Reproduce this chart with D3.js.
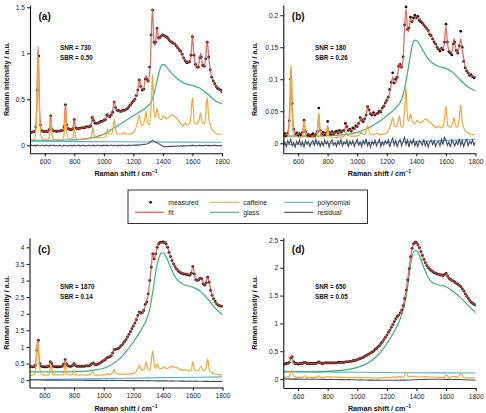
<!DOCTYPE html>
<html><head><meta charset="utf-8">
<script src="https://cdn.jsdelivr.net/npm/d3@7"></script>
<style>
html,body{margin:0;padding:0;background:#fff;}
svg{display:block;font-family:"Liberation Sans",Arial,sans-serif;}
</style></head>
<body><svg id="chart" width="486" height="413"></svg>
<script>
// ---------------- DATA ----------------
const xTicks = [600, 800, 1000, 1200, 1400, 1600, 1800];
const gridX10 = d3.range(500, 1801, 10);
const gridX20 = d3.range(500, 1801, 20);
const seriesNames = ["measured", "fit", "caffeine", "glass", "polynomial", "residual"];
const panelLabels = ["(a)", "(b)", "(c)", "(d)"];
const snrTexts = ["SNR = 730", "SNR = 180", "SNR = 1870", "SNR = 650"];
const sbrTexts = ["SBR = 0.50", "SBR = 0.26", "SBR = 0.14", "SBR = 0.05"];
const yTicksA = [0, 0.5, 1, 1.5];
const yTicksB = [0, 0.05, 0.1, 0.15, 0.2];
const yTicksC = [0, 0.5, 1, 1.5, 2, 2.5, 3, 3.5, 4];
const yTicksD = [0, 0.5, 1, 1.5, 2, 2.5];

// panel (a)
const aMeasured = [0.14,0.14,0.145,0.15,0.2,0.6,0.97,0.22,0.16,0.15,
0.15,0.15,0.15,0.17,0.32,0.17,0.155,0.155,0.15,0.155,
0.155,0.16,0.16,0.2,0.44,0.22,0.18,0.17,0.17,0.18,
0.28,0.19,0.18,0.18,0.185,0.19,0.19,0.19,0.2,0.2,
0.2,0.21,0.3,0.27,0.24,0.24,0.24,0.25,0.26,0.26,
0.27,0.28,0.33,0.32,0.31,0.33,0.36,0.47,0.41,0.38,
0.38,0.37,0.37,0.38,0.38,0.39,0.4,0.42,0.44,0.46,
0.48,0.5,0.54,0.6,0.71,0.64,0.6,0.61,0.72,0.72,
0.7,0.85,1.2,1.47,1.12,1.12,1.27,1.17,1.17,1.19,
1.2,1.19,1.18,1.17,1.15,1.13,1.12,1.11,1.1,1.08,
1.06,1.04,1.02,0.99,0.95,0.92,0.9,0.9,0.91,0.98,
1.18,0.98,0.88,0.85,0.85,0.95,0.96,0.87,0.86,0.94,
1.12,0.96,0.82,0.74,0.7,0.67,0.64,0.62,0.61,0.6,
0.58];
const aFit = [[500,0.14],[520,0.145],[535,0.17],[545,0.4],[555,1.08],[565,0.4],[577,0.17],[590,0.15],[620,0.15],[632,0.19],[640,0.33],[648,0.19],[660,0.155],[700,0.155],[725,0.17],[733,0.27],[740,0.45],[747,0.27],[757,0.18],[780,0.17],[793,0.21],[800,0.29],[807,0.21],[820,0.18],[860,0.19],[900,0.2],[915,0.24],[925,0.32],[935,0.26],[960,0.24],[1000,0.27],[1018,0.31],[1025,0.35],[1033,0.31],[1050,0.33],[1062,0.4],[1070,0.48],[1078,0.42],[1095,0.38],[1120,0.37],[1150,0.39],[1180,0.44],[1210,0.5],[1230,0.6],[1240,0.72],[1252,0.62],[1268,0.6],[1285,0.76],[1298,0.68],[1315,0.9],[1322,1.25],[1330,1.48],[1338,1.15],[1347,1.08],[1360,1.28],[1372,1.15],[1385,1.18],[1400,1.2],[1420,1.18],[1440,1.15],[1460,1.12],[1480,1.1],[1500,1.06],[1520,1.02],[1540,0.95],[1560,0.9],[1580,0.91],[1592,1.02],[1600,1.19],[1608,1.02],[1620,0.88],[1635,0.84],[1645,0.9],[1655,1.0],[1665,0.9],[1680,0.86],[1690,0.97],[1700,1.13],[1710,0.97],[1722,0.8],[1740,0.7],[1760,0.64],[1780,0.61],[1800,0.58]];
const aGlass = [[500,0.055],[600,0.055],[700,0.057],[800,0.06],[900,0.075],[950,0.095],[1000,0.12],[1050,0.17],[1100,0.22],[1150,0.27],[1200,0.32],[1250,0.37],[1300,0.43],[1320,0.47],[1340,0.56],[1360,0.7],[1375,0.8],[1390,0.87],[1400,0.88],[1420,0.86],[1440,0.82],[1460,0.78],[1500,0.72],[1550,0.67],[1600,0.65],[1650,0.62],[1700,0.56],[1750,0.49],[1800,0.45]];
const aCaffeine = [[500,0.055],[530,0.065],[542,0.2],[548,0.5],[555,0.97],[562,0.5],[568,0.2],[582,0.07],[620,0.06],[633,0.11],[641,0.27],[649,0.11],[665,0.06],[725,0.065],[733,0.17],[740,0.38],[747,0.17],[760,0.07],[790,0.08],[800,0.2],[810,0.08],[830,0.065],[900,0.07],[917,0.11],[925,0.2],[933,0.11],[960,0.08],[1010,0.09],[1020,0.13],[1025,0.18],[1030,0.13],[1050,0.12],[1062,0.18],[1070,0.28],[1080,0.17],[1095,0.12],[1120,0.12],[1135,0.14],[1150,0.12],[1190,0.13],[1215,0.18],[1230,0.26],[1240,0.33],[1252,0.22],[1265,0.22],[1278,0.3],[1285,0.37],[1295,0.25],[1310,0.22],[1322,0.5],[1330,0.77],[1338,0.4],[1348,0.3],[1360,0.4],[1372,0.3],[1390,0.28],[1405,0.32],[1420,0.29],[1440,0.3],[1460,0.33],[1480,0.31],[1500,0.28],[1520,0.24],[1535,0.21],[1550,0.24],[1565,0.22],[1585,0.25],[1600,0.52],[1612,0.25],[1630,0.23],[1645,0.28],[1655,0.35],[1665,0.25],[1680,0.23],[1690,0.34],[1700,0.52],[1710,0.3],[1725,0.2],[1750,0.14],[1775,0.12],[1800,0.12]];
const aPoly = [[500,0.045],[900,0.04],[1300,0.036],[1800,0.033]];
const aResidual = [-0.004,0.002,-0.006,0.001,-0.008,0.004,-0.002,-0.007,0.003,-0.004,
-0.006,0.002,-0.003,-0.008,0.001,-0.005,0.003,-0.006,-0.002,-0.007,
0.002,-0.004,-0.009,0.001,-0.005,-0.002,-0.008,0.003,-0.004,-0.006,
0.001,-0.007,-0.003,0.002,-0.006,-0.004,0.001,-0.008,-0.002,-0.005,
0.002,-0.006,-0.003,0.001,-0.007,-0.002,0.003,-0.005,-0.001,-0.006,
0.002,-0.004,0.001,-0.006,-0.002,0.003,-0.005,0.001,-0.003,-0.006,
0.001,-0.004,-0.001,0.002,-0.005,0.001,-0.003,0.002,-0.002,0.001,
0.003,-0.001,0.004,0.002,0.006,0.004,0.008,0.01,0.012,0.015,
0.02,0.03,0.042,0.052,0.045,0.035,0.028,0.018,0.008,-0.002,
-0.01,-0.015,-0.012,-0.016,-0.011,-0.014,-0.009,-0.013,-0.008,-0.011,
-0.006,-0.01,-0.005,-0.009,-0.004,-0.008,-0.003,-0.007,-0.002,-0.006,
0.001,-0.005,-0.002,-0.007,-0.003,0.001,-0.006,-0.002,-0.005,0.002,
-0.004,-0.001,-0.006,-0.002,-0.005,0.001,-0.004,-0.002,-0.006,-0.003,
-0.004];

// panel (b)
const bMeasured = [0.012,0.015,0.011,0.016,0.035,0.1,0.062,0.022,0.013,0.016,
0.012,0.015,0.013,0.017,0.036,0.018,0.012,0.014,0.011,0.013,
0.015,0.011,0.014,0.018,0.055,0.02,0.014,0.017,0.013,0.016,
0.034,0.017,0.014,0.018,0.015,0.017,0.019,0.016,0.02,0.017,
0.019,0.02,0.031,0.026,0.02,0.022,0.019,0.024,0.023,0.027,
0.026,0.031,0.04,0.036,0.034,0.038,0.044,0.057,0.052,0.046,
0.044,0.048,0.044,0.046,0.047,0.05,0.049,0.055,0.058,0.063,
0.067,0.072,0.084,0.095,0.11,0.094,0.1,0.103,0.12,0.123,
0.119,0.135,0.185,0.213,0.178,0.18,0.197,0.19,0.196,0.2,
0.196,0.198,0.192,0.19,0.188,0.185,0.182,0.179,0.176,0.17,
0.168,0.163,0.158,0.155,0.15,0.147,0.144,0.148,0.146,0.158,
0.186,0.158,0.143,0.141,0.138,0.155,0.158,0.145,0.141,0.152,
0.175,0.15,0.128,0.118,0.113,0.11,0.106,0.107,0.104,0.102,
0.103];
const bFit = [[500,0.013],[520,0.013],[535,0.022],[545,0.065],[552,0.12],[560,0.065],[570,0.022],[590,0.014],[630,0.016],[640,0.037],[650,0.017],[700,0.012],[730,0.016],[740,0.047],[750,0.017],[790,0.015],[800,0.027],[810,0.016],[850,0.016],[900,0.018],[918,0.023],[925,0.03],[932,0.023],[960,0.02],[1000,0.027],[1018,0.034],[1025,0.04],[1032,0.035],[1050,0.036],[1062,0.047],[1070,0.058],[1080,0.05],[1100,0.046],[1130,0.045],[1160,0.05],[1190,0.062],[1215,0.075],[1230,0.092],[1240,0.104],[1250,0.095],[1265,0.097],[1278,0.115],[1285,0.125],[1295,0.117],[1310,0.13],[1320,0.18],[1330,0.21],[1340,0.18],[1348,0.175],[1360,0.195],[1372,0.19],[1390,0.195],[1400,0.197],[1420,0.194],[1450,0.186],[1480,0.175],[1500,0.168],[1520,0.16],[1540,0.15],[1560,0.147],[1585,0.15],[1600,0.183],[1610,0.157],[1625,0.143],[1640,0.142],[1655,0.164],[1665,0.149],[1680,0.142],[1690,0.152],[1700,0.163],[1710,0.148],[1725,0.125],[1745,0.112],[1765,0.107],[1785,0.104],[1800,0.103]];
const bGlass = [[500,0.011],[600,0.011],[700,0.011],[800,0.012],[900,0.013],[1000,0.017],[1050,0.021],[1100,0.027],[1150,0.034],[1200,0.043],[1250,0.053],[1300,0.068],[1320,0.085],[1340,0.11],[1360,0.138],[1375,0.155],[1390,0.161],[1405,0.16],[1420,0.155],[1450,0.143],[1480,0.132],[1500,0.127],[1550,0.12],[1600,0.117],[1650,0.11],[1700,0.098],[1750,0.088],[1800,0.082]];
const bCaffeine = [[500,0.008],[530,0.01],[542,0.03],[547,0.065],[552,0.12],[558,0.065],[563,0.03],[577,0.012],[620,0.009],[633,0.016],[640,0.035],[648,0.016],[665,0.009],[725,0.01],[733,0.022],[740,0.045],[747,0.022],[765,0.01],[790,0.011],[800,0.025],[809,0.011],[840,0.009],[900,0.01],[917,0.013],[925,0.018],[933,0.013],[960,0.011],[1010,0.012],[1020,0.015],[1025,0.018],[1030,0.015],[1050,0.014],[1062,0.021],[1070,0.028],[1080,0.019],[1095,0.014],[1120,0.014],[1135,0.016],[1150,0.013],[1190,0.015],[1215,0.022],[1230,0.031],[1240,0.04],[1252,0.027],[1265,0.026],[1278,0.036],[1285,0.043],[1295,0.028],[1310,0.025],[1322,0.06],[1330,0.088],[1338,0.045],[1348,0.034],[1360,0.046],[1372,0.034],[1390,0.03],[1405,0.036],[1420,0.032],[1440,0.034],[1460,0.038],[1480,0.035],[1500,0.031],[1520,0.027],[1535,0.024],[1550,0.027],[1565,0.024],[1585,0.028],[1600,0.058],[1612,0.028],[1630,0.025],[1645,0.031],[1655,0.04],[1665,0.028],[1680,0.025],[1690,0.038],[1700,0.06],[1710,0.034],[1725,0.022],[1750,0.016],[1775,0.014],[1800,0.013]];
const bPoly = [[500,-0.002],[900,0.0],[1300,0.002],[1800,0.006]];
const bResidual = [-0.003,0.002,-0.005,0.004,-0.001,0.006,-0.004,0.001,-0.006,0.003,
-0.002,0.005,-0.004,0.002,-0.006,0.004,-0.001,0.003,-0.005,0.001,
0.004,-0.003,0.006,-0.002,0.003,-0.005,0.002,-0.004,0.005,-0.001,
0.003,-0.006,0.002,0.005,-0.003,0.001,-0.005,0.004,-0.002,0.006,
-0.004,0.002,-0.001,0.005,-0.006,0.003,-0.002,0.004,-0.005,0.001,
0.006,-0.003,0.002,-0.005,0.004,-0.001,0.007,-0.004,0.002,-0.006,
0.003,-0.002,0.005,-0.004,0.001,0.006,-0.005,0.002,-0.003,0.004,
-0.001,0.005,-0.006,0.003,0.008,-0.003,0.004,-0.005,0.002,0.006,
-0.004,0.003,0.009,-0.002,0.005,-0.006,0.004,-0.001,0.006,-0.004,
0.002,-0.005,0.004,0.001,-0.003,0.006,-0.004,0.003,-0.006,0.002,
0.005,-0.002,0.004,-0.005,0.001,0.003,-0.004,0.006,-0.002,0.009,
0.004,-0.003,0.002,-0.006,0.005,0.001,-0.004,0.003,-0.002,0.007,
-0.003,0.004,-0.005,0.002,0.006,-0.004,0.003,-0.001,0.005,-0.003,
0.002];

// panel (c)
const cMeasured = [0.4,0.41,0.4,0.41,0.45,0.9,1.2,0.5,0.42,0.41,
0.4,0.4,0.41,0.42,0.55,0.5,0.42,0.41,0.4,0.4,
0.4,0.41,0.42,0.48,0.62,0.48,0.43,0.42,0.42,0.44,
0.5,0.44,0.42,0.42,0.42,0.42,0.42,0.42,0.43,0.43,
0.43,0.45,0.5,0.51,0.47,0.47,0.48,0.5,0.53,0.56,
0.59,0.62,0.67,0.69,0.7,0.73,0.82,0.92,0.93,0.94,
0.96,1.0,1.05,1.1,1.16,1.22,1.3,1.38,1.46,1.55,
1.63,1.72,1.82,1.95,2.05,2.02,2.03,2.1,2.28,2.35,
2.6,3.0,3.4,3.8,3.65,3.8,4.0,4.1,4.15,4.15,
4.16,4.14,4.1,4.0,3.85,3.72,3.6,3.5,3.42,3.35,
3.3,3.26,3.23,3.21,3.2,3.19,3.18,3.17,3.16,3.22,
3.42,3.2,3.03,3.0,3.02,3.07,3.05,2.9,2.86,2.93,
3.1,2.95,2.7,2.55,2.45,2.37,2.3,2.26,2.24,2.23,
2.22];
const cFit = [[500,0.4],[535,0.42],[545,0.65],[555,1.26],[565,0.65],[578,0.43],[630,0.42],[645,0.59],[658,0.43],[725,0.43],[740,0.62],[755,0.44],[790,0.43],[800,0.5],[812,0.43],[900,0.43],[915,0.47],[925,0.52],[935,0.48],[960,0.48],[1000,0.59],[1020,0.67],[1025,0.69],[1050,0.73],[1062,0.85],[1070,0.92],[1100,0.96],[1150,1.22],[1200,1.63],[1230,1.95],[1240,2.05],[1255,2.0],[1270,2.1],[1285,2.32],[1300,2.6],[1320,3.4],[1330,3.8],[1340,3.65],[1350,3.8],[1370,4.1],[1390,4.15],[1410,4.14],[1430,4.0],[1450,3.72],[1480,3.42],[1500,3.3],[1550,3.19],[1585,3.17],[1600,3.42],[1615,3.1],[1630,3.0],[1650,3.07],[1665,3.0],[1680,2.86],[1700,3.1],[1715,2.85],[1735,2.5],[1760,2.3],[1800,2.22]];
const cGlass = [[500,0.25],[600,0.25],[700,0.25],[800,0.26],[900,0.28],[950,0.31],[1000,0.36],[1050,0.46],[1100,0.62],[1150,0.86],[1200,1.15],[1250,1.5],[1290,1.85],[1310,2.15],[1330,2.65],[1350,3.25],[1370,3.65],[1390,3.83],[1405,3.82],[1420,3.72],[1450,3.4],[1480,3.12],[1500,3.0],[1550,2.86],[1600,2.8],[1650,2.68],[1700,2.45],[1750,2.17],[1800,1.97]];
const cCaffeine = [[500,0.14],[535,0.17],[543,0.45],[549,0.85],[555,1.15],[561,0.85],[567,0.45],[580,0.17],[630,0.15],[645,0.45],[658,0.16],[728,0.16],[740,0.5],[752,0.17],[790,0.16],[800,0.3],[810,0.16],[900,0.15],[925,0.25],[940,0.15],[1010,0.16],[1025,0.2],[1040,0.17],[1060,0.22],[1070,0.32],[1082,0.2],[1100,0.18],[1200,0.2],[1230,0.35],[1240,0.45],[1255,0.3],[1275,0.35],[1285,0.55],[1298,0.32],[1312,0.3],[1330,0.88],[1342,0.4],[1350,0.36],[1360,0.5],[1372,0.36],[1390,0.35],[1405,0.4],[1425,0.35],[1460,0.41],[1500,0.36],[1530,0.3],[1550,0.32],[1570,0.28],[1590,0.3],[1600,0.57],[1612,0.3],[1635,0.28],[1655,0.42],[1670,0.28],[1688,0.35],[1700,0.64],[1712,0.3],[1730,0.22],[1760,0.18],[1800,0.16]];
const cPoly = [[500,0.02],[900,0.04],[1300,0.07],[1800,0.1]];
const cResidual = [0.01,0.005,0.008,0.004,0.006,0.003,0.005,0.002,0.004,0.001,
0.003,0.0,0.002,-0.002,0.001,-0.003,0.0,-0.004,-0.002,-0.005,
-0.003,-0.006,-0.004,-0.007,-0.005,-0.008,-0.006,-0.009,-0.007,-0.01,
-0.008,-0.011,-0.009,-0.012,-0.01,-0.013,-0.011,-0.014,-0.012,-0.016,
-0.014,-0.018,-0.015,-0.02,-0.017,-0.022,-0.019,-0.024,-0.021,-0.026,
-0.023,-0.028,-0.025,-0.03,-0.027,-0.032,-0.029,-0.034,-0.031,-0.036,
-0.033,-0.038,-0.035,-0.04,-0.037,-0.04];

// panel (d)
const dMeasured = [0.27,0.27,0.28,0.28,0.3,0.38,0.4,0.31,0.28,0.28,
0.27,0.28,0.28,0.28,0.3,0.3,0.28,0.28,0.28,0.28,
0.28,0.28,0.28,0.29,0.31,0.29,0.28,0.28,0.29,0.29,
0.29,0.29,0.29,0.29,0.29,0.29,0.29,0.3,0.3,0.3,
0.3,0.3,0.31,0.31,0.31,0.32,0.32,0.33,0.33,0.34,
0.35,0.36,0.37,0.38,0.39,0.41,0.42,0.44,0.45,0.47,
0.48,0.5,0.53,0.55,0.58,0.6,0.64,0.67,0.71,0.75,
0.79,0.84,0.88,0.93,0.98,1.03,1.08,1.12,1.15,1.19,
1.24,1.32,1.45,1.6,1.78,1.98,2.2,2.35,2.43,2.46,
2.45,2.41,2.36,2.29,2.22,2.15,2.09,2.04,2.0,1.97,
1.95,1.93,1.91,1.9,1.89,1.88,1.87,1.87,1.86,1.88,
1.9,1.85,1.81,1.79,1.77,1.76,1.74,1.72,1.7,1.68,
1.66,1.62,1.58,1.53,1.49,1.45,1.41,1.38,1.36,1.34,
1.33];
const dFit = [[500,0.27],[530,0.28],[545,0.33],[555,0.42],[565,0.33],[580,0.28],[630,0.28],[645,0.31],[660,0.28],[730,0.28],[740,0.31],[752,0.28],[800,0.29],[850,0.29],[900,0.3],[950,0.32],[1000,0.35],[1050,0.41],[1100,0.48],[1150,0.6],[1200,0.79],[1250,1.03],[1280,1.15],[1300,1.24],[1320,1.45],[1340,1.78],[1360,2.2],[1375,2.4],[1390,2.46],[1405,2.44],[1420,2.36],[1450,2.15],[1480,2.0],[1500,1.95],[1550,1.88],[1585,1.86],[1600,1.9],[1615,1.83],[1650,1.76],[1680,1.7],[1700,1.66],[1720,1.58],[1750,1.45],[1780,1.36],[1800,1.33]];
const dGlass = [[500,0.13],[600,0.13],[700,0.13],[800,0.14],[900,0.16],[1000,0.21],[1050,0.26],[1100,0.34],[1150,0.46],[1200,0.64],[1250,0.86],[1290,1.08],[1320,1.35],[1340,1.65],[1360,2.05],[1375,2.25],[1390,2.31],[1405,2.3],[1420,2.22],[1450,2.0],[1480,1.82],[1500,1.75],[1550,1.69],[1600,1.66],[1650,1.57],[1700,1.46],[1750,1.32],[1800,1.19]];
const dCaffeine = [[500,0.03],[540,0.045],[548,0.11],[555,0.16],[562,0.11],[572,0.05],[600,0.03],[630,0.03],[645,0.06],[660,0.03],[728,0.03],[740,0.06],[755,0.03],[800,0.04],[900,0.03],[1000,0.025],[1060,0.025],[1070,0.035],[1085,0.02],[1230,0.025],[1240,0.04],[1260,0.03],[1285,0.05],[1310,0.03],[1330,0.13],[1345,0.04],[1360,0.05],[1400,0.04],[1460,0.045],[1550,0.03],[1590,0.03],[1600,0.08],[1620,0.03],[1655,0.05],[1680,0.03],[1700,0.1],[1720,0.03],[1800,0.02]];
const dPoly = [[500,0.14],[900,0.125],[1300,0.115],[1800,0.11]];
const dResidual = [0.005,0.002,0.004,0.0,0.003,-0.001,0.002,-0.002,0.001,-0.003,
0.0,-0.004,-0.002,-0.005,-0.003,-0.006,-0.004,-0.007,-0.006,-0.009,
-0.008,-0.011,-0.01,-0.013,-0.012,-0.015,-0.014,-0.017,-0.016,-0.019,
-0.018,-0.02,-0.019,-0.021,-0.02,-0.022,-0.021,-0.022,-0.02,-0.021,
-0.018,-0.019,-0.016,-0.015,-0.012,-0.011,-0.008,-0.007,-0.005,-0.004,
-0.003,-0.004,-0.002,-0.004,-0.003,-0.005,-0.004,-0.006,-0.005,-0.008,
-0.008,-0.011,-0.012,-0.015,-0.017,-0.02];

// ---------------- STYLE / LAYOUT ----------------
const colors = {measured:"#24100b", fit:"#de4b40", caffeine:"#f2a63c", glass:"#36b27a", polynomial:"#5ea9dc", residual:"#3e4b5e"};

const panels = [
  {label:0, x:[30,222], y:[153.3,5], ydom:[-0.087,1.525], yt:yTicksA, m:aMeasured, fit:aFit, gl:aGlass, caf:aCaffeine, poly:aPoly, res:aResidual, resX:gridX10, snr:[60,49.5]},
  {label:1, x:[283.3,475.5], y:[153.3,5], ydom:[-0.0157,0.216], yt:yTicksB, m:bMeasured, fit:bFit, gl:bGlass, caf:bCaffeine, poly:bPoly, res:bResidual, resX:gridX10, snr:[315,49.5]},
  {label:2, x:[29.5,222.5], y:[387.5,238], ydom:[-0.22,4.28], yt:yTicksC, m:cMeasured, fit:cFit, gl:cGlass, caf:cCaffeine, poly:cPoly, res:cResidual, resX:gridX20, snr:[60,289]},
  {label:3, x:[283.3,475.7], y:[388,237.7], ydom:[-0.16,2.54], yt:yTicksD, m:dMeasured, fit:dFit, gl:dGlass, caf:dCaffeine, poly:dPoly, res:dResidual, resX:gridX20, snr:[315,289]}
];

const svg = d3.select("#chart");
const fmt = d3.format("~g");

panels.forEach(p => {
  const xs = d3.scaleLinear().domain([500,1800]).range(p.x);
  const ys = d3.scaleLinear().domain(p.ydom).range(p.y);
  const g = svg.append("g");
  const clipId = "clip" + p.label;
  svg.append("clipPath").attr("id", clipId).append("rect")
     .attr("x", p.x[0]).attr("y", p.y[1]).attr("width", p.x[1]-p.x[0]).attr("height", p.y[0]-p.y[1]);
  const plot = g.append("g").attr("clip-path", `url(#${clipId})`);
  const lineXY = d3.line().x(d => xs(d[0])).y(d => ys(d[1])).curve(d3.curveMonotoneX);

  const resPts = p.res.map((v,i) => [p.resX[i], v]);
  plot.append("path").datum(p.poly).attr("d", lineXY).attr("fill","none").attr("stroke",colors.polynomial).attr("stroke-width",1.1);
  plot.append("path").datum(resPts).attr("d", d3.line().x(d=>xs(d[0])).y(d=>ys(d[1]))).attr("fill","none").attr("stroke",colors.residual).attr("stroke-width",1.1);
  plot.append("path").datum(p.gl).attr("d", lineXY).attr("fill","none").attr("stroke",colors.glass).attr("stroke-width",1.2);
  plot.selectAll("circle.m").data(p.m.map((v,i)=>[gridX10[i], v])).enter().append("circle")
     .attr("cx", d => xs(d[0])).attr("cy", d => ys(d[1])).attr("r", 1.4).attr("fill", colors.measured);
  plot.append("path").datum(p.fit).attr("d", lineXY).attr("fill","none").attr("stroke",colors.fit).attr("stroke-width",1.3).attr("stroke-opacity",0.8);
  plot.append("path").datum(p.caf).attr("d", lineXY).attr("fill","none").attr("stroke",colors.caffeine).attr("stroke-width",1.2);

  // axes
  const xAxis = d3.axisBottom(xs).tickValues(xTicks).tickSize(3).tickSizeOuter(0).tickPadding(3).tickFormat(d3.format("d"));
  const yAxis = d3.axisLeft(ys).tickValues(p.yt).tickSize(3).tickSizeOuter(0).tickPadding(2).tickFormat(fmt);
  const gx = g.append("g").attr("transform", `translate(0,${p.y[0]})`).call(xAxis);
  const gy = g.append("g").attr("transform", `translate(${p.x[0]},0)`).call(yAxis);
  [gx, gy].forEach(a => {
    a.selectAll("text").attr("font-size", 6.7).attr("fill","#222").attr("font-family","Liberation Sans, Arial, sans-serif");
    a.selectAll("line").attr("stroke","#111");
    a.select(".domain").attr("stroke","#111").attr("stroke-width",1.1);
  });

  // titles
  const xt = g.append("text").attr("x", (p.x[0]+p.x[1])/2).attr("y", p.y[0]+23)
    .attr("text-anchor","middle").attr("font-size",7.2).attr("font-weight","bold").attr("fill","#111");
  xt.append("tspan").text("Raman shift / cm");
  xt.append("tspan").text("\u22121").attr("font-size",5).attr("dy",-3);
  const ymid = (p.y[0]+p.y[1])/2;
  const ytx = p.x[0] - (p.label % 2 === 0 ? 21 : 26);
  g.append("text").attr("transform", `translate(${ytx},${ymid}) rotate(-90)`)
    .attr("text-anchor","middle").attr("font-size",7.2).attr("font-weight","bold").attr("fill","#111")
    .text("Raman intensity / a.u.");

  g.append("text").attr("x", p.x[0]+8.5).attr("y", p.y[1]+15).attr("font-size",10).attr("font-weight","bold").attr("fill","#111")
    .text(panelLabels[p.label]);
  g.append("text").attr("x", p.snr[0]).attr("y", p.snr[1]).attr("font-size",6.3).attr("font-weight","bold").attr("fill","#111").text(snrTexts[p.label]);
  g.append("text").attr("x", p.snr[0]).attr("y", p.snr[1]+10).attr("font-size",6.3).attr("font-weight","bold").attr("fill","#111").text(sbrTexts[p.label]);
});

// legend
const lg = svg.append("g");
lg.append("rect").attr("x",128).attr("y",190).attr("width",239.5).attr("height",33.5).attr("fill","#fff").attr("stroke","#333").attr("stroke-width",1);
const legendItems = [
  {name:seriesNames[0], col:0, row:0, dot:true},
  {name:seriesNames[1], col:0, row:1},
  {name:seriesNames[2], col:1, row:0},
  {name:seriesNames[3], col:1, row:1},
  {name:seriesNames[4], col:2, row:0},
  {name:seriesNames[5], col:2, row:1}
];
const colX = [135, 210, 284.3];
const rowY = [202.3, 212.3];
legendItems.forEach(it => {
  const x0 = colX[it.col], y0 = rowY[it.row];
  if (it.dot) {
    lg.append("circle").attr("cx", x0+15.7).attr("cy", y0).attr("r",1.4).attr("fill",colors.measured);
  } else {
    lg.append("line").attr("x1",x0).attr("x2",x0+29).attr("y1",y0).attr("y2",y0).attr("stroke",colors[it.name]).attr("stroke-width",1.1);
  }
  lg.append("text").attr("x", x0+33.3).attr("y", y0+2.4).attr("font-size",6.8).attr("fill","#222").text(it.name);
});
</script>
</body></html>
